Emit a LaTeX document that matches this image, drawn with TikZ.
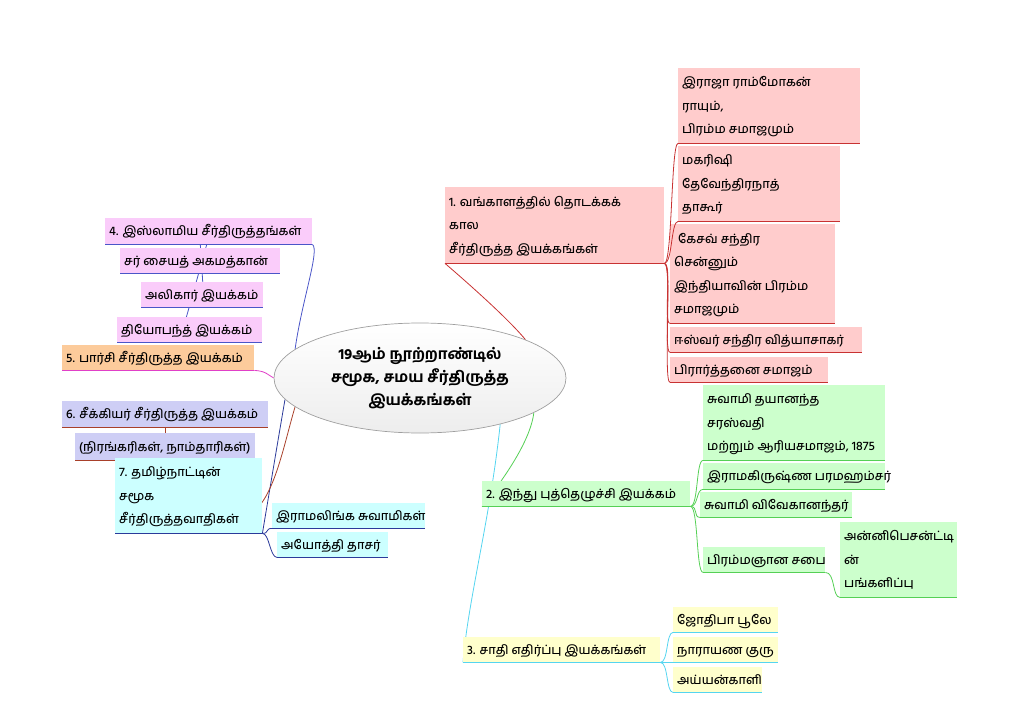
\documentclass[tikz,border=0pt]{standalone}
\usepackage{fontspec}
\newfontfamily\tamil[Script=Tamil, UprightFont={* Medium}, BoldFont={* Bold}]{Hind Madurai}
\usetikzlibrary{shapes.geometric}
\pgfdeclarelayer{bg}
\pgfsetlayers{bg,main}
\definecolor{fpink}{HTML}{FFCCCC}
\definecolor{lred}{HTML}{C83232}
\definecolor{fgreen}{HTML}{CCFFCC}
\definecolor{lgreen}{HTML}{55D055}
\definecolor{fyellow}{HTML}{FFFFCC}
\definecolor{lcyan}{HTML}{55D5F0}
\definecolor{fcyan}{HTML}{CCFFFF}
\definecolor{ldblue}{HTML}{2B3A9A}
\definecolor{fmag}{HTML}{FACCFA}
\definecolor{lblue}{HTML}{4A55C8}
\definecolor{forange}{HTML}{FCCB9B}
\definecolor{lmag}{HTML}{E040C8}
\definecolor{flav}{HTML}{CECEF5}
\definecolor{lbrown}{HTML}{A8402A}
\tikzset{
  mmbox/.style={anchor=north west, inner xsep=3pt, inner ysep=0pt,
    font=\tamil\fontsize{12.5}{23.5}\selectfont},
  uline/.style={line width=0.8pt},
  conn/.style={line width=0.8pt},
}
\newcommand\mmnode[8]{%
  \pgfmathsetmacro\mmw{#4-#2}\pgfmathsetmacro\mmh{#5-#3}\pgfmathsetmacro\mmt{#4-#2-8}%
  \node[mmbox, fill=#6, minimum width=\mmw pt, minimum height=\mmh pt] (#1) at (#2,#3)
    {\makebox[\mmt pt][l]{\begin{tabular}{@{}l@{}}#8\end{tabular}}};
  \draw[uline, #7] (#1.south west) -- (#1.south east);}
\begin{document}
\begin{tikzpicture}[x=1pt,y=-1pt]
\useasboundingbox (0,0) rectangle (1027,711);

% centre
\node[ellipse, draw=gray!75, line width=0.7pt, top color=white, bottom color=gray!14,
  minimum width=292pt, minimum height=110pt, inner sep=0pt, align=center,
  font=\tamil\bfseries\fontsize{15}{23}\selectfont] (c) at (420,378)
  {19ஆம் நூற்றாண்டில்\\சமூக, சமய சீர்திருத்த\\இயக்கங்கள்};

% branch 1
\mmnode{n1}{445}{187}{664}{263}{fpink}{lred}{1. வங்காளத்தில் தொடக்கக்\\கால\\சீர்திருத்த இயக்கங்கள்}
\mmnode{n1a}{678}{68}{860}{143}{fpink}{lred}{இராஜா ராம்மோகன்\\ராயும்,\\பிரம்ம சமாஜமும்}
\mmnode{n1b}{678}{146}{840}{221}{fpink}{lred}{மகரிஷி\\தேவேந்திரநாத்\\தாகூர்}
\mmnode{n1c}{670}{224}{835}{323}{fpink}{lred}{\hspace*{4pt}கேசவ் சந்திர\\சென்னும்\\இந்தியாவின் பிரம்ம\\சமாஜமும்}
\mmnode{n1d}{670}{327}{862}{352}{fpink}{lred}{ஈஸ்வர் சந்திர வித்யாசாகர்}
\mmnode{n1e}{670}{357}{828}{382}{fpink}{lred}{பிரார்த்தனை சமாஜம்}

% branch 2
\mmnode{n2}{482}{481}{690}{506}{fgreen}{lgreen}{2. இந்து புத்தெழுச்சி இயக்கம்}
\mmnode{n2a}{703}{385}{885}{460}{fgreen}{lgreen}{சுவாமி தயானந்த\\சரஸ்வதி\\மற்றும் ஆரியசமாஜம், 1875}
\mmnode{n2b}{703}{463}{885}{489}{fgreen}{lgreen}{இராமகிருஷ்ண பரமஹம்சர்}
\mmnode{n2c}{700}{492}{852}{517}{fgreen}{lgreen}{சுவாமி விவேகானந்தர்}
\mmnode{n2d}{703}{547}{825}{572}{fgreen}{lgreen}{பிரம்மஞான சபை}
\mmnode{n2e}{840}{522}{957}{597}{fgreen}{lgreen}{அன்னிபெசன்ட்டி\\ன்\\பங்களிப்பு}

% branch 3
\mmnode{n3}{463}{637}{660}{662}{fyellow}{lcyan}{3. சாதி எதிர்ப்பு இயக்கங்கள்}
\mmnode{n3a}{673}{607}{778}{632}{fyellow}{lcyan}{ஜோதிபா பூலே}
\mmnode{n3b}{673}{637}{778}{662}{fyellow}{lcyan}{நாராயண குரு}
\mmnode{n3c}{673}{667}{762}{692}{fyellow}{lcyan}{அய்யன்காளி}

% branch 4
\mmnode{n4}{105}{218}{312}{244}{fmag}{lblue}{4. இஸ்லாமிய சீர்திருத்தங்கள்}
\mmnode{n4a}{120}{248}{280}{273}{fmag}{lblue}{சர் சையத் அகமத்கான்}
\mmnode{n4b}{141}{282}{263}{307}{fmag}{lblue}{அலிகார் இயக்கம்}
\mmnode{n4c}{117}{317}{262}{342}{fmag}{lblue}{தியோபந்த் இயக்கம்}

% branch 5
\mmnode{n5}{62}{345}{254}{370}{forange}{lmag}{5. பார்சி சீர்திருத்த இயக்கம்}

% branch 6
\mmnode{n6}{62}{401}{268}{427}{flav}{lbrown}{6. சீக்கியர் சீர்திருத்த இயக்கம்}
\mmnode{n6a}{75}{433}{255}{460}{flav}{lbrown}{(நிரங்கரிகள், நாம்தாரிகள்)}

% branch 7
\mmnode{n7}{115}{458}{262}{533}{fcyan}{ldblue}{7. தமிழ்நாட்டின்\\சமூக\\சீர்திருத்தவாதிகள்}
\mmnode{n7a}{272}{503}{425}{528}{fcyan}{ldblue}{இராமலிங்க சுவாமிகள்}
\mmnode{n7b}{277}{532}{388}{557}{fcyan}{ldblue}{அயோத்தி தாசர்}

\coordinate (bend) at (254,511);
\coordinate (u1) at (208,240);
\coordinate (u2) at (185,322);
\coordinate (v1) at (200,240);
\coordinate (v2) at (203,286);

\begin{pgfonlayer}{bg}
  \draw[conn, lred] (c.20) .. controls (505,315) and (455,272) .. (n1.south west);
  \draw[conn, lgreen] (c.343) .. controls (530,445) and (495,490) .. (n2.south west);
  \draw[conn, lcyan] (c.330) .. controls (490,520) and (468,600) .. (n3.south west);
  \draw[conn, lblue] (c.167) .. controls (302,300) and (320,250) .. (n4.south east);
  \draw[conn, lmag] (c.180) .. controls (268,375) and (266,371) .. (n5.south east);
  \draw[conn, ldblue] (c.189) .. controls (278,440) and (268,500) .. (n7.south east);
  \draw[conn, lbrown] (c.193) .. controls (285,440) and (275,495) .. (bend);
  \draw[conn, lblue] (u1) -- (u2);
  \draw[conn, lblue] (v1) -- (v2);
  \draw[conn, lbrown] (n6.south) -- (n6a.north);
\end{pgfonlayer}

\foreach \k in {n1a,n1b,n1c,n1d,n1e}
  \draw[conn, lred] (n1.south east) .. controls +(8,0) and +(-7,0) .. (\k.south west);
\foreach \k in {n2a,n2b,n2c,n2d}
  \draw[conn, lgreen] (n2.south east) .. controls +(8,0) and +(-7,0) .. (\k.south west);
\draw[conn, lgreen] (n2d.south east) .. controls +(10,0) and +(-8,0) .. (n2e.south west);
\foreach \k in {n3a,n3b,n3c}
  \draw[conn, lcyan] (n3.south east) .. controls +(8,0) and +(-7,0) .. (\k.south west);
\foreach \k in {n7a,n7b}
  \draw[conn, ldblue] (n7.south east) .. controls +(7,0) and +(-7,0) .. (\k.south west);
\end{tikzpicture}
\end{document}
